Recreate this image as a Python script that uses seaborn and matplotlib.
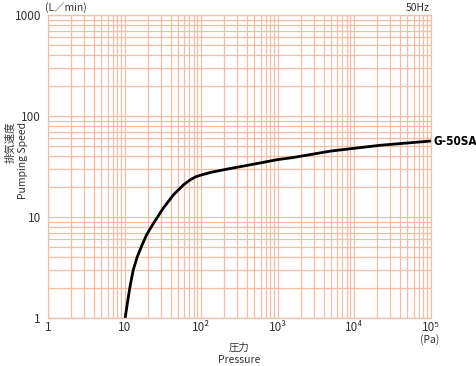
import matplotlib
matplotlib.use("Agg")
import matplotlib.pyplot as plt
import seaborn as sns
import pandas as pd
from matplotlib.ticker import LogLocator, FixedLocator, FixedFormatter, NullFormatter

# Data
pressure = [10.2, 10.9, 11.8, 13.0, 14.7, 17.0, 19.5, 24, 32.5, 44, 59, 72, 85, 100, 135,
            230, 380, 620, 1000, 1600, 5000, 22000, 100000]
speed = [1.0, 1.40, 2.04, 2.99, 4.05, 5.3, 6.7, 8.7, 12.4, 16.7, 20.8, 23.3, 25.0, 26.0, 27.7,
         30.0, 32.2, 34.5, 37.0, 38.8, 45.0, 51.3, 56.5]
x_ticks = [1, 10, 100, 1000, 10000, 100000]
x_labels = ["1", "10", "10²", "10³", "10⁴", "10⁵"]
y_ticks = [1, 10, 100, 1000]
y_labels = ["1", "10", "100", "1000"]
series_name = "G-50SA"

sns.set_style("white")
plt.rcParams['font.family'] = ['Noto Sans CJK JP', 'DejaVu Sans']

df = pd.DataFrame({"pressure": pressure, "speed": speed})

fig = plt.figure(figsize=(4.76, 3.66), dpi=100)
ax = fig.add_axes([48/476, 1 - 318/366, (430.5 - 48)/476, (318 - 15)/366])

grid_color = "#f5bda6"
txt_color = "#333333"
ax.set_xscale("log")
ax.set_yscale("log")
ax.set_xlim(1, 1e5)
ax.set_ylim(1, 1000)

ax.xaxis.set_major_locator(FixedLocator(x_ticks))
ax.xaxis.set_major_formatter(FixedFormatter(x_labels))
ax.xaxis.set_minor_locator(LogLocator(base=10, subs=range(2, 10), numticks=20))
ax.xaxis.set_minor_formatter(NullFormatter())
ax.yaxis.set_major_locator(FixedLocator(y_ticks))
ax.yaxis.set_major_formatter(FixedFormatter(y_labels))
ax.yaxis.set_minor_locator(LogLocator(base=10, subs=range(2, 10), numticks=20))
ax.yaxis.set_minor_formatter(NullFormatter())

ax.grid(True, which="both", color=grid_color, lw=0.9)
ax.set_axisbelow(True)
for s in ax.spines.values():
    s.set_color(grid_color)
    s.set_linewidth(0.9)
ax.tick_params(which="both", length=0, labelsize=8.5, colors=txt_color)
ax.tick_params(axis="x", pad=2)
ax.tick_params(axis="y", pad=5)

sns.lineplot(data=df, x="pressure", y="speed", ax=ax, color="black", lw=2.0)
ax.set_xlabel("")
ax.set_ylabel("")

ax.text(1.007, speed[-1], series_name, transform=ax.get_yaxis_transform(),
        fontsize=8.5, fontweight="bold", color="black", va="center", ha="left",
        family=["DejaVu Sans"], fontstretch="condensed")

fig.text(45/476, 1 - 8/366, "(L／min)", fontsize=7.5, color=txt_color, va="center", ha="left")
fig.text(430/476, 1 - 8/366, "50Hz", fontsize=7.5, color=txt_color, va="center", ha="right")
fig.text(430/476, 1 - 340/366, "(Pa)", fontsize=7.5, color=txt_color, va="center", ha="center")
fig.text(17/476, 1 - 160/366, "排気速度\nPumping Speed", rotation=90, fontsize=7.5,
         color=txt_color, va="center", ha="center", linespacing=1.25, multialignment="right")
fig.text(239/476, 1 - 354/366, "圧力\nPressure", fontsize=7.5, color=txt_color,
         va="center", ha="center", linespacing=1.25, multialignment="center")

fig.savefig("out.png", dpi=100)
